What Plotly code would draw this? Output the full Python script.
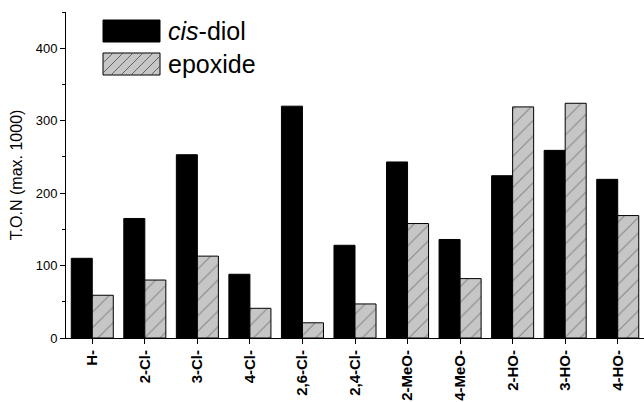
import plotly.graph_objects as go

categories = ["H-", "2-Cl-", "3-Cl-", "4-Cl-", "2,6-Cl-", "2,4-Cl-", "2-MeO-", "4-MeO-", "2-HO-", "3-HO-", "4-HO-"]
cis_diol = [110, 165, 253, 88, 320, 128, 243, 136, 224, 259, 219]
epoxide = [59, 80, 113, 41, 21, 47, 158, 82, 319, 324, 169]
y_ticks = [0, 100, 200, 300, 400]

FONT = "Liberation Sans, Arial, sans-serif"

fig = go.Figure()
fig.add_trace(go.Bar(x=categories, y=cis_diol, name="cis-diol",
                     marker=dict(color="black", line=dict(color="black", width=1))))
fig.add_trace(go.Bar(x=categories, y=epoxide, name="epoxide",
                     marker=dict(color="#c6c6c6", line=dict(color="black", width=1),
                                 pattern=dict(shape="/", bgcolor="#c6c6c6", fgcolor="#4a4a4a",
                                              size=11, solidity=0.1, fillmode="overlay"))))

# legend drawn manually
PW, PH, L, B = 578, 326, 66, 338
def px(x):
    return (x - L) / PW
def py(y):
    return (B - y) / PH

shapes = []
shapes.append(dict(type="rect", xref="paper", yref="paper", x0=px(103), x1=px(160),
                   y0=py(42), y1=py(20), fillcolor="black", line=dict(color="black", width=1)))
shapes.append(dict(type="rect", xref="paper", yref="paper", x0=px(103), x1=px(160), y0=py(75), y1=py(53),
                   fillcolor="#c6c6c6", line=dict(color="black", width=1)))
path = ""
for k in range(-22, 57, 10):
    xa, ya = 103 + k, 75
    xb, yb = 103 + k + 22, 53
    if xa < 103:
        ya = ya - (103 - xa); xa = 103
    if xb > 160:
        yb = yb + (xb - 160); xb = 160
    if xa >= xb:
        continue
    path += f"M{px(xa)},{py(ya)} L{px(xb)},{py(yb)} "
shapes.append(dict(type="path", xref="paper", yref="paper", path=path,
                   line=dict(color="#4a4a4a", width=0.8)))

annotations = [
    dict(xref="paper", yref="paper", x=px(166), y=py(31), xanchor="left", yanchor="middle",
         text="<i>cis</i>-diol", showarrow=False, font=dict(family=FONT, size=25, color="black")),
    dict(xref="paper", yref="paper", x=px(166), y=py(64), xanchor="left", yanchor="middle",
         text="epoxide", showarrow=False, font=dict(family=FONT, size=25, color="black")),
]

fig.update_layout(
    width=644, height=402,
    margin=dict(l=66, r=0, t=12, b=64),
    paper_bgcolor="white", plot_bgcolor="white",
    barmode="group", bargap=0.2, bargroupgap=0,
    showlegend=False,
    shapes=shapes, annotations=annotations,
    font=dict(family=FONT, color="black"),
)
fig.update_xaxes(
    range=[-0.5, 10.5], showgrid=False, showline=True, linecolor="black", linewidth=1,
    ticks="outside", ticklen=5, tickcolor="black", tickangle=-90,
    tickfont=dict(family=FONT, size=15, color="black", weight="bold"), automargin=False,
    minor=dict(ticks="outside", ticklen=3, tickcolor="black", tick0=0.5, dtick=1),
)
fig.update_yaxes(
    range=[0, 450], showgrid=False, showline=True, linecolor="black", linewidth=1,
    tickvals=y_ticks, ticktext=[str(v) for v in y_ticks],
    ticks="outside", ticklen=5, tickcolor="black",
    tickfont=dict(family=FONT, size=13, color="black"), zeroline=False,
    minor=dict(ticks="outside", ticklen=3, tickcolor="black", tickvals=[50, 150, 250, 350, 450]),
    title=dict(text="T.O.N (max. 1000)", font=dict(family=FONT, size=16, color="black"), standoff=9),
    automargin=False,
)

fig.write_html("out.html")
